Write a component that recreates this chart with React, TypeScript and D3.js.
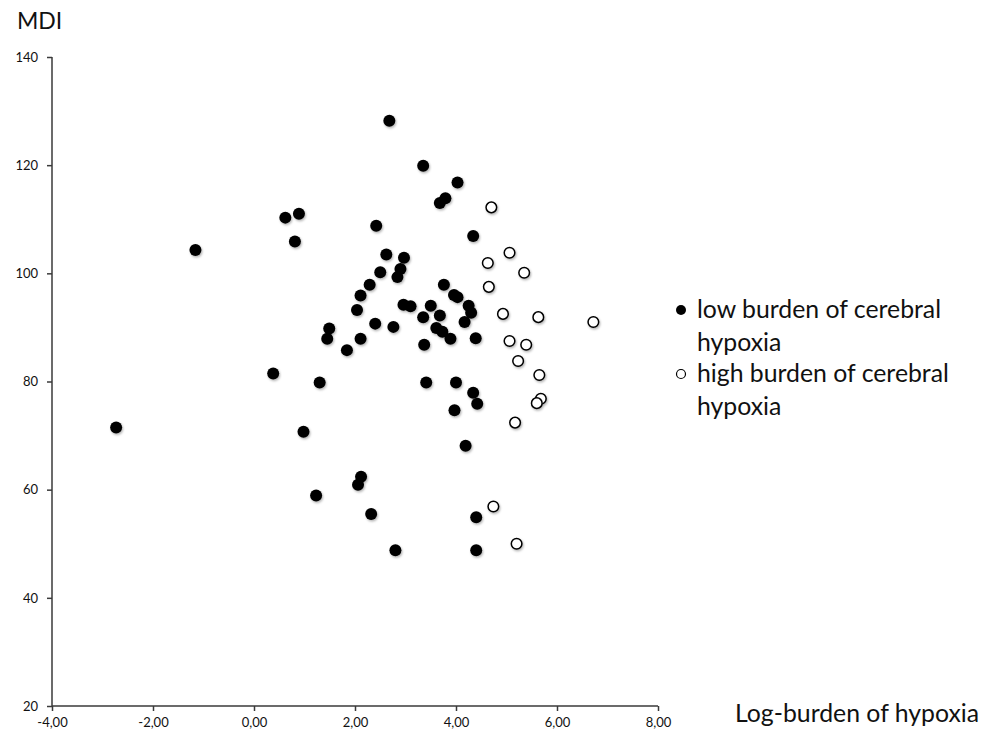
import { useEffect, useRef } from 'react';
import * as d3 from 'd3';

const W = 995, H = 738;
const X_DOMAIN = [-4, 8];
const Y_DOMAIN = [20, 140];
const X_TICKS = [-4, -2, 0, 2, 4, 6, 8];
const Y_TICKS = [20, 40, 60, 80, 100, 120, 140];

// low burden of cerebral hypoxia (filled)
const lowX = [-2.73, -1.16, 0.38, 0.62, 0.89, 0.81, 0.98, 1.23, 1.30, 1.45, 1.49, 1.84, 2.04, 2.06, 2.11, 2.11, 2.12, 2.29, 2.32, 2.40,
  2.42, 2.50, 2.62, 2.76, 2.80, 2.84, 2.90, 2.96, 2.97, 3.10, 3.35, 3.35, 3.37, 3.41, 3.50, 3.61, 3.68, 3.68, 3.73, 3.76,
  3.79, 3.89, 3.96, 3.97, 4.00, 4.03, 4.03, 4.17, 4.19, 4.25, 4.30, 4.34, 4.34, 4.39, 4.40, 4.40, 4.42, 2.68];
const lowY = [71.5, 104.3, 81.5, 110.3, 111.0, 105.9, 70.7, 58.9, 79.8, 87.9, 89.8, 85.8, 93.2, 60.9, 95.9, 87.9, 62.4, 97.9, 55.5, 90.7,
  108.8, 100.2, 103.5, 90.1, 48.8, 99.3, 100.8, 94.2, 102.9, 93.9, 119.9, 91.9, 86.8, 79.8, 94.0, 89.9, 113.0, 92.2, 89.2, 97.9,
  113.9, 87.9, 96.0, 74.7, 79.8, 116.8, 95.6, 91.0, 68.1, 94.0, 92.7, 106.9, 77.9, 88.0, 54.9, 48.8, 75.9, 128.2];

// high burden of cerebral hypoxia (open)
const highX = [4.70, 5.06, 4.63, 5.35, 4.65, 4.93, 5.63, 6.72, 5.06, 5.39, 5.23, 5.65, 5.68, 5.60, 5.17, 4.74, 5.20];
const highY = [112.2, 103.8, 101.9, 100.1, 97.5, 92.5, 91.9, 91.0, 87.5, 86.8, 83.8, 81.2, 76.8, 76.0, 72.4, 56.9, 50.0];

const LEGEND = [
  { lines: ['low burden of cerebral', 'hypoxia'], filled: true },
  { lines: ['high burden of cerebral', 'hypoxia'], filled: false },
];

const FONT = 'Lato, "Open Sans", sans-serif';

export default function App() {
  const xAxisRef = useRef<SVGGElement>(null);
  const yAxisRef = useRef<SVGGElement>(null);
  const x = d3.scaleLinear().domain(X_DOMAIN).range([52, 658]);
  const y = d3.scaleLinear().domain(Y_DOMAIN).range([706, 57]);

  useEffect(() => {
    const fmt = (d: number) => d3.format('.2f')(d).replace('.', ',').replace('−', '-');
    const gx = d3.select(xAxisRef.current!);
    gx.selectAll('*').remove();
    gx.call(d3.axisBottom(x).tickValues(X_TICKS).tickSize(5).tickPadding(7).tickFormat(fmt as any));
    const gy = d3.select(yAxisRef.current!);
    gy.selectAll('*').remove();
    gy.call(d3.axisLeft(y).tickValues(Y_TICKS).tickSize(5).tickPadding(9));
    [gx, gy].forEach(g => {
      g.selectAll('.domain, .tick line').attr('stroke', '#3a3a3a').attr('stroke-width', 1.5);
      g.selectAll('text').attr('fill', '#111').attr('font-size', 13).attr('font-family', FONT);
    });
    gx.select('.domain').attr('d', `M${x(-4)},0H${x(8)}`);
    gy.select('.domain').attr('d', `M0,${y(20)}V${y(140)}`);
  }, []);

  return (
    <svg width={W} height={H} style={{ position: 'absolute', left: 0, top: 0, background: '#fff' }}>
      <defs>
        <filter id="sh" x="-50%" y="-50%" width="200%" height="200%">
          <feDropShadow dx="1" dy="1.5" stdDeviation="1" floodColor="#000" floodOpacity="0.3" />
        </filter>
      </defs>
      <rect width={W} height={H} fill="#fff" />
      <g ref={xAxisRef} transform={`translate(0,${y(20)})`} />
      <g ref={yAxisRef} transform={`translate(${x(-4)},0)`} />
      <text x={17} y={29} fontFamily={FONT} fontSize={23} fill="#111">MDI</text>
      <text x={735} y={722} fontFamily={FONT} fontSize={24.8} fill="#111">Log-burden of hypoxia</text>
      <g filter="url(#sh)">
        {lowX.map((v, i) => (
          <circle key={'l' + i} cx={x(v)} cy={y(lowY[i])} r={6} fill="#000" />
        ))}
        {highX.map((v, i) => (
          <circle key={'h' + i} cx={x(v)} cy={y(highY[i])} r={5.3} fill="#fff" stroke="#000" strokeWidth={1.5} />
        ))}
      </g>
      {LEGEND.map((d, i) => (
        <g key={i} transform={`translate(681,${310 + i * 64})`}>
          <circle r={d.filled ? 5 : 4.5} fill={d.filled ? '#000' : '#fff'} stroke="#000" strokeWidth={d.filled ? 0 : 1.2} />
          {d.lines.map((t, j) => (
            <text key={j} x={16} y={8 + j * 33} fontFamily={FONT} fontSize={24.8} fill="#111">{t}</text>
          ))}
        </g>
      ))}
    </svg>
  );
}
